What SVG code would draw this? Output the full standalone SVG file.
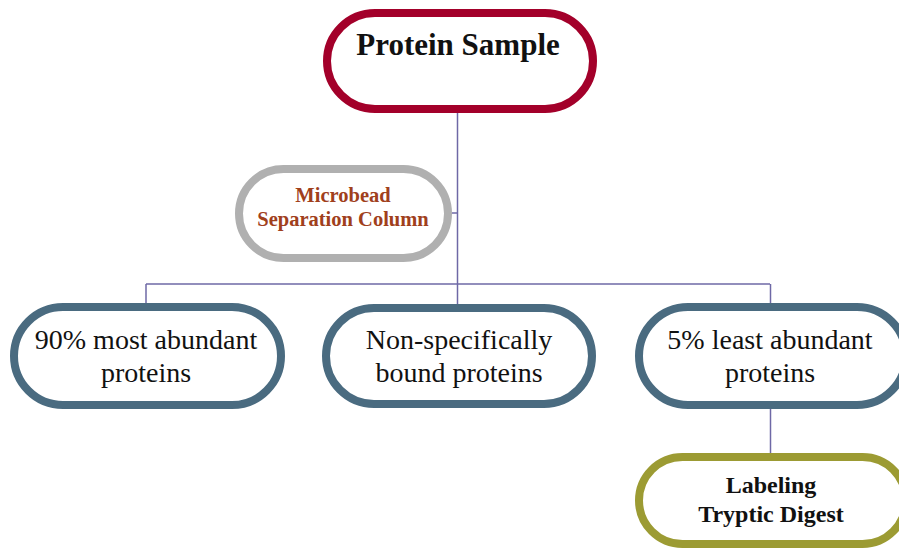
<svg xmlns="http://www.w3.org/2000/svg" width="899" height="557" viewBox="0 0 899 557">
<style>
  .pill { fill: #ffffff; stroke-width: 8; }
  .red { stroke: #A3002A; }
  .gray { stroke: #B0B0B0; }
  .slate { stroke: #4A6B80; }
  .olive { stroke: #9C9B33; }
  .conn { fill: none; stroke: #6E68A6; stroke-width: 1.5; }
  text { font-family: "Liberation Serif", "DejaVu Serif", serif; text-anchor: middle; fill: #111111; }
  .title { font-size: 31px; font-weight: bold; }
  .small { font-size: 20.5px; font-weight: bold; fill: #A0401C; }
  .reg { font-size: 28px; }
  .bold22 { font-size: 24px; font-weight: bold; }
</style>
<rect width="899" height="557" fill="#ffffff"/>
<g id="connectors">
  <path class="conn" d="M457.5 113 V284"/>
  <path class="conn" d="M452 213 H457.5"/>
  <path class="conn" d="M146 284 H770"/>
  <path class="conn" d="M146 284 V304"/>
  <path class="conn" d="M457.5 284 V304"/>
  <path class="conn" d="M770.5 284 V304"/>
  <path class="conn" d="M770.5 409 V453"/>
</g>
<g id="protein-sample">
  <rect class="pill red" x="327" y="13" width="266" height="96" rx="48"/>
  <text class="title" x="458" y="55">Protein Sample</text>
</g>
<g id="microbead">
  <rect class="pill gray" x="239" y="169" width="209" height="89" rx="44.5"/>
  <text class="small" x="343" y="202">Microbead</text>
  <text class="small" x="343" y="226">Separation Column</text>
</g>
<g id="most-abundant">
  <rect class="pill slate" x="14" y="307" width="267" height="98" rx="49"/>
  <text class="reg" x="146" y="349">90% most abundant</text>
  <text class="reg" x="146" y="382">proteins</text>
</g>
<g id="non-specific">
  <rect class="pill slate" x="326" y="308" width="266" height="96" rx="48"/>
  <text class="reg" x="459" y="349">Non-specifically</text>
  <text class="reg" x="459" y="382">bound proteins</text>
</g>
<g id="least-abundant">
  <rect class="pill slate" x="639" y="307" width="267" height="98" rx="49"/>
  <text class="reg" x="770" y="349">5% least abundant</text>
  <text class="reg" x="770" y="382">proteins</text>
</g>
<g id="labeling">
  <rect class="pill olive" x="639" y="457" width="267" height="87" rx="43.5"/>
  <text class="bold22" x="771" y="493">Labeling</text>
  <text class="bold22" x="771" y="522">Tryptic Digest</text>
</g>
</svg>
